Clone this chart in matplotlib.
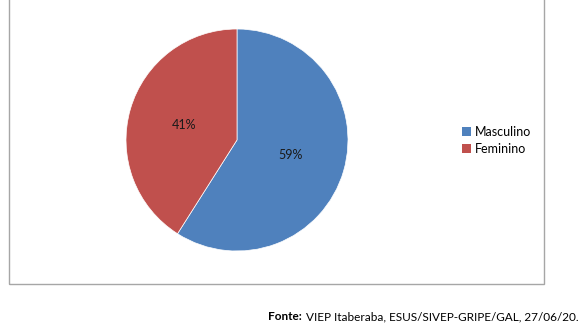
import matplotlib
matplotlib.use("Agg")
import matplotlib.pyplot as plt
from matplotlib.patches import Rectangle, Patch

# dados
categorias = ["Masculino", "Feminino"]
valores = [59, 41]
cores = ["#4F81BD", "#C0504D"]

plt.rcParams['font.family'] = ['Lato', 'DejaVu Sans']

W, H = 580, 336
fig = plt.figure(figsize=(W / 100, H / 100), dpi=100)

# moldura do gráfico (topo cortado)
fig.patches.append(Rectangle((9 / W, 1 - 284 / H), (544 - 9) / W, 1.0,
                             transform=fig.transFigure, fill=False,
                             edgecolor="#a6a6a6", linewidth=1.0))

# pizza
cx, cy, r = 237, 140, 111
ax = fig.add_axes([(cx - r) / W, 1 - (cy + r) / H, 2 * r / W, 2 * r / H])
wedges, textos = ax.pie(valores, colors=cores, startangle=90, counterclock=False,
                        labels=[f"{v}%" for v in valores], labeldistance=0.5,
                        wedgeprops=dict(linewidth=0.5, edgecolor="white"),
                        textprops=dict(fontsize=9, color="#1a1a1a"))
for t in textos:
    t.set_horizontalalignment("center")
ax.set_xlim(-1, 1)
ax.set_ylim(-1, 1)
ax.axis("off")

# legenda
handles = [Patch(facecolor=c, edgecolor="none") for c in cores]
fig.legend(handles, categorias, loc="upper left", bbox_to_anchor=(462 / W, 1 - 126 / H),
           frameon=False, fontsize=9, handlelength=0.75, handleheight=0.75,
           handletextpad=0.25, labelspacing=0.4, borderpad=0, borderaxespad=0)

# fonte
rotulo = fig.text(268 / W, 1 - 317 / H, "Fonte:", fontsize=8.5, fontweight="bold", va="center")
fig.canvas.draw()
x_fim = rotulo.get_window_extent().x1 / W
fig.text(x_fim + 4 / W, 1 - 317 / H, "VIEP Itaberaba, ESUS/SIVEP-GRIPE/GAL, 27/06/20.",
         fontsize=8.5, va="center")

fig.savefig("out.png", dpi=100)
